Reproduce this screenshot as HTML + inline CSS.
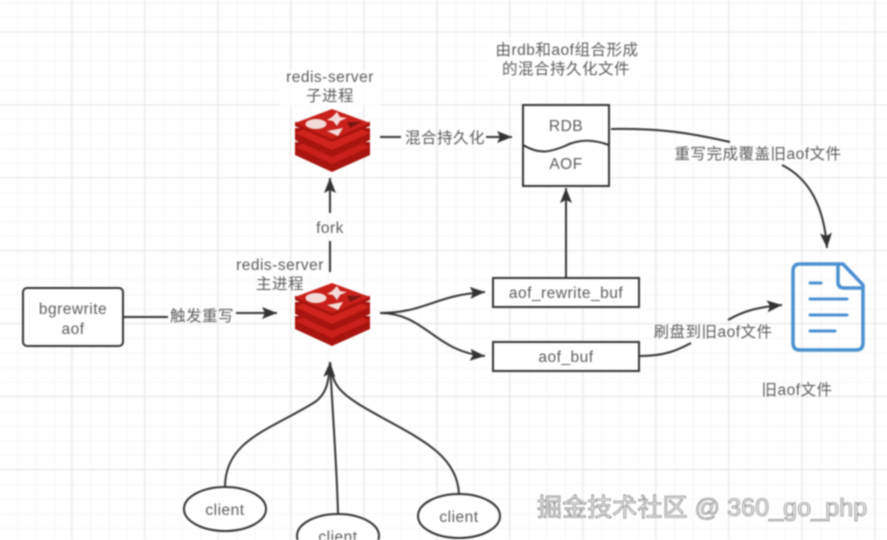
<!DOCTYPE html>
<html><head><meta charset="utf-8"><style>
html,body{margin:0;padding:0;background:#fff}
svg{display:block;filter:blur(.7px)}
text{font-family:"Liberation Sans","Noto Sans CJK SC",sans-serif;fill:#5c5c5c;text-anchor:middle;font-size:15.5px;letter-spacing:.5px}
.wm{font-size:25px;fill:#f2f2f2;stroke:#666;stroke-width:.6px;text-anchor:start;letter-spacing:.1px}
</style></head><body>
<svg width="887" height="540" viewBox="0 0 887 540" xmlns="http://www.w3.org/2000/svg">
<defs>
<pattern id="mn" width="18.25" height="14.6" patternUnits="userSpaceOnUse" x="0" y="3">
<path d="M18.25 0V14.6M0 14.6H18.25" stroke="#eeeeee" stroke-width="1" fill="none"/></pattern>
<pattern id="mj" width="73" height="72.9" patternUnits="userSpaceOnUse" x="-1" y="31.5">
<path d="M73 0V72.9M0 0H73" stroke="#e2e2e2" stroke-width="1.5" fill="none"/></pattern>
<marker id="a" markerWidth="16" markerHeight="12" refX="15" refY="6" orient="auto" markerUnits="userSpaceOnUse"><path d="M0 0L15 6L0 12L3 6Z" fill="#333"/></marker>
<g id="redis">
<path d="M0 46L37 63L75 46V33L0 33Z" fill="#a8140f"/>
<path d="M0 38L37 21L75 38L37 55Z" fill="#c9201b"/>
<path d="M0 31L37 48L75 31V19L0 19Z" fill="#a8140f"/>
<path d="M0 24L37 8L75 24L37 41Z" fill="#cf231d"/>
<path d="M0 17L37 33L75 17V13L0 13Z" fill="#a8140f"/>
<path d="M0 14L37 0L75 14L37 30Z" fill="#c9201b"/>
<ellipse cx="21" cy="15" rx="10.5" ry="5" fill="#f3dcd8"/>
<path d="M32 22L48 19L43 27Z" fill="#f3dcd8"/>
<path d="M37 8L42 3L45 8L52 9L45 12L42 17L38 12L32 11Z" fill="#f3dcd8"/>
<path d="M52 13L67 13L55 19Z" fill="#7a1510"/>
</g>
</defs>
<rect width="887" height="540" fill="#fff"/>
<rect width="887" height="540" fill="url(#mn)"/>
<rect width="887" height="540" fill="url(#mj)"/>

<rect x="280" y="70" width="100" height="36" fill="#fff" opacity=".8"/>
<rect x="490" y="38" width="155" height="42" fill="#fff" opacity=".8"/>

<use href="#redis" x="295" y="109"/>
<use href="#redis" x="295" y="283"/>

<g fill="none" stroke="#333" stroke-width="2">
<path d="M330 272V241"/>
<path d="M330 213V178" marker-end="url(#a)"/>
<path d="M380 137H401"/>
<path d="M486 137H512" marker-end="url(#a)"/>
<path d="M124 317H168"/>
<path d="M236 313H277" marker-end="url(#a)"/>
<path d="M380 313C425 313 435 295 485 292" marker-end="url(#a)"/>
<path d="M380 313C425 313 435 352 485 356" marker-end="url(#a)"/>
<path d="M566 278V188" marker-end="url(#a)"/>
<path d="M611 129C660 128 690 133 730 142"/>
<path d="M782 165C808 178 824 205 827 248" marker-end="url(#a)"/>
<path d="M640 356C665 356 678 350 691 343"/>
<path d="M728 320C745 310 760 307 782 305" marker-end="url(#a)"/>
<path d="M225 487C225 440 270 430 315 402C325 395 329 385 330 362" marker-end="url(#a)"/>
<path d="M338 514C337 470 333 420 330 362"/>
<path d="M459 494C457 450 410 435 360 405C340 392 332 385 330 362"/>
</g>

<rect x="23" y="288" width="100" height="58" rx="4" fill="#fff" stroke="#333" stroke-width="2"/>
<rect x="523" y="105" width="86" height="81" fill="#fff" stroke="#333" stroke-width="2"/>
<path d="M523 145C540 155 550 152 565 146C580 138 595 140 609 145" fill="none" stroke="#333" stroke-width="2"/>
<rect x="493" y="278" width="146" height="29" fill="#fff" stroke="#333" stroke-width="2"/>
<rect x="493" y="342" width="146" height="29" fill="#fff" stroke="#333" stroke-width="2"/>
<ellipse cx="225" cy="509" rx="41" ry="22" fill="#fff" stroke="#333" stroke-width="2"/>
<ellipse cx="338" cy="536" rx="41" ry="22" fill="#fff" stroke="#333" stroke-width="2"/>
<ellipse cx="459" cy="516" rx="41" ry="22" fill="#fff" stroke="#333" stroke-width="2"/>

<g fill="none" stroke="#4a90d0" stroke-width="3.5" stroke-linecap="round" stroke-linejoin="round">
<path d="M800 264H843L863 285V343Q863 350 856 350H800Q793 350 793 343V271Q793 264 800 264Z"/>
<path d="M838 264V282Q838 288 844 288H863"/>
<path d="M810 283H821M810 299H847M810 315H847M810 331H835" stroke-width="3"/>
</g>

<text x="330" y="82">redis-server</text>
<text x="330" y="101">子进程</text>
<text x="280" y="270">redis-server</text>
<text x="280" y="289">主进程</text>
<text x="567" y="55">由rdb和aof组合形成</text>
<text x="566" y="74">的混合持久化文件</text>
<text x="445" y="143">混合持久化</text>
<text x="330" y="233">fork</text>
<text x="202" y="321">触发重写</text>
<text x="73" y="314">bgrewrite</text>
<text x="73" y="334">aof</text>
<text x="566" y="131">RDB</text>
<text x="566" y="169">AOF</text>
<text x="758" y="159">重写完成覆盖旧aof文件</text>
<text x="566" y="298">aof_rewrite_buf</text>
<text x="566" y="362">aof_buf</text>
<text x="713" y="337">刷盘到旧aof文件</text>
<text x="797" y="395">旧aof文件</text>
<text x="225" y="515">client</text>
<text x="338" y="542">client</text>
<text x="459" y="522">client</text>
<text class="wm" x="537" y="516">掘金技术社区 @ 360_go_php</text>
</svg>
</body></html>
